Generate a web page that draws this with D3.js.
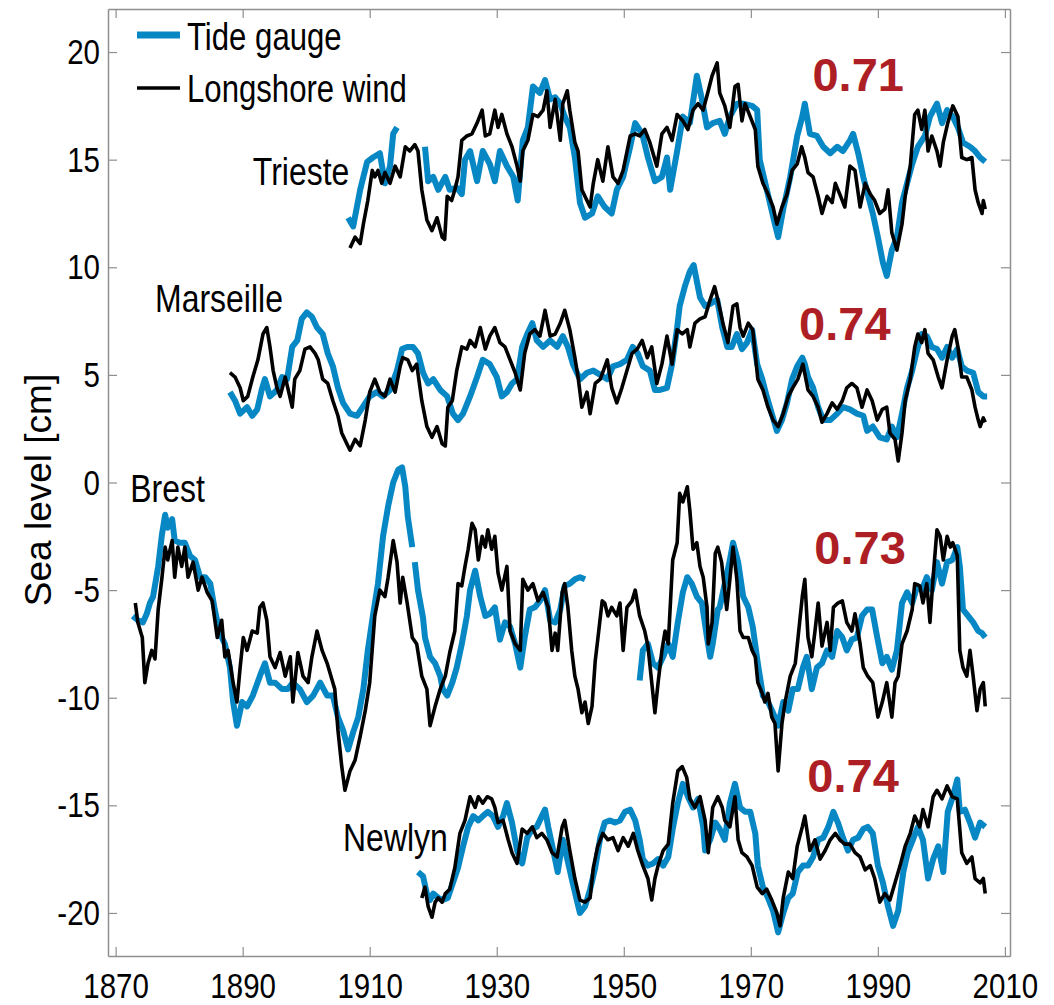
<!DOCTYPE html>
<html>
<head>
<meta charset="utf-8">
<script src="https://cdn.jsdelivr.net/npm/d3@7"></script>
<style>
  body { margin: 0; background: #fff; }
  svg text { font-family: "Liberation Sans", Arial, Helvetica, sans-serif; fill: #000; }
</style>
</head>
<body>
<svg id="chart" width="1054" height="1005"></svg>
<script>
// Sea level at four stations: tide gauge vs longshore-wind reconstruction

const X_TICKS = [1870, 1890, 1910, 1930, 1950, 1970, 1990, 2010];
const Y_TICKS = [-20, -15, -10, -5, 0, 5, 10, 15, 20];

const SERIES_NAMES = ["Tide gauge", "Longshore wind"];
const STATIONS = ["Trieste", "Marseille", "Brest", "Newlyn"];
const CORRELATIONS = ["0.71", "0.74", "0.73", "0.74"];

// [year, cm]; null marks a gap in the record
const triesteTide = [
  [1906.6,12.3],[1907.4,11.9],[1908.5,13.6],[1909.6,14.9],[1910.5,15.1],[1911.6,15.3],[1912.4,13.9],[1913.2,14.7],[1913.7,16.2],[1914.3,16.5],[1916,null],
  [1918.7,15.6],[1919.2,14.0],[1920.0,14.2],[1920.8,13.6],[1921.9,14.2],[1922.6,13.6],[1923.7,13.7],[1924.5,13.4],[1925.0,15.0],[1925.8,15.4],[1926.9,14.0],
  [1927.8,15.4],[1928.9,14.8],[1929.7,14.0],[1930.5,15.4],[1931.6,14.7],[1932.6,14.2],[1933.3,13.1],[1934.1,15.9],[1934.9,16.5],[1935.7,18.4],[1936.8,18.1],
  [1937.6,18.7],[1938.4,17.8],[1939.2,17.9],[1940.0,17.6],[1940.7,17.0],[1941.5,16.5],[1942.3,15.1],[1943.1,13.0],[1943.9,12.3],[1945.0,12.5],[1945.9,13.3],
  [1947.0,12.8],[1948.1,12.5],[1948.9,13.6],[1949.9,14.2],[1951.0,15.6],[1951.8,16.7],[1952.9,16.2],[1953.8,15.1],[1954.9,14.0],[1956.0,14.2],[1956.8,15.1],
  [1957.3,13.6],[1958.4,15.4],[1959.3,17.0],[1960.4,16.7],[1961.5,18.9],[1962.3,17.8],[1963.1,16.5],[1964.0,16.7],[1965.1,16.8],[1965.9,16.2],[1966.7,17.0],
  [1967.8,17.6],[1968.8,17.6],[1970.2,17.5],[1971.0,17.3],[1971.4,15.0],[1972.2,14.0],[1973.0,13.0],[1973.8,12.0],[1974.3,11.4],[1975.1,12.7],[1976.2,14.2],
  [1977.3,16.1],[1978.1,17.0],[1978.5,17.6],[1979.3,16.2],[1980.4,16.1],[1981.4,15.6],[1982.5,15.3],[1983.6,15.6],[1984.5,15.4],[1985.6,15.9],[1986.1,16.2],
  [1986.9,15.3],[1987.7,14.2],[1988.4,13.4],[1989.2,12.5],[1990.0,11.4],[1990.8,10.2],[1991.4,9.6],[1992.2,10.8],[1993.0,11.4],[1993.8,13.0],[1994.6,13.9],
  [1995.4,14.8],[1996.3,15.6],[1997.4,16.1],[1998.2,17.0],[1999.3,17.6],[2000.1,16.7],[2000.9,17.3],[2001.8,17.0],[2002.6,16.5],[2003.4,15.8],[2004.5,15.6],
  [2005.3,15.4],[2006.1,15.1],[2006.9,14.9]
];
const triesteWind = [
  [1906.9,10.9],[1907.7,11.4],[1908.5,11.1],[1909.0,12.0],[1909.7,13.1],[1910.4,14.5],[1910.8,14.2],[1911.3,14.5],[1911.9,13.9],[1912.4,14.4],[1913.2,13.9],
  [1914.0,14.7],[1914.8,14.2],[1915.6,15.6],[1916.3,15.4],[1917.1,15.7],[1917.6,15.4],[1918.2,13.6],[1919.0,12.2],[1919.8,11.7],[1920.6,12.3],[1921.4,11.4],
  [1921.8,11.3],[1922.2,13.3],[1922.9,13.1],[1923.4,13.6],[1923.9,14.2],[1924.5,15.9],[1925.3,16.1],[1926.1,16.2],[1926.9,16.7],[1927.7,17.3],[1928.2,16.1],
  [1928.9,16.2],[1929.7,17.3],[1930.2,16.5],[1930.8,17.1],[1931.6,16.2],[1932.4,15.6],[1933.2,14.7],[1933.7,14.0],[1934.1,15.4],[1934.9,15.9],[1935.7,17.1],
  [1936.5,17.0],[1937.3,17.3],[1937.9,18.2],[1938.4,16.5],[1939.2,17.8],[1940.0,15.9],[1940.4,17.6],[1941.1,18.2],[1941.5,17.3],[1942.3,15.8],[1942.8,15.4],
  [1943.4,13.6],[1944.2,13.1],[1944.7,12.8],[1945.2,13.9],[1945.9,15.0],[1946.7,14.0],[1947.5,15.6],[1948.3,14.2],[1949.1,13.9],[1949.9,14.5],[1951.0,16.1],
  [1951.8,16.2],[1952.5,16.1],[1953.3,16.4],[1954.1,15.8],[1955.2,14.7],[1956.0,16.2],[1956.8,16.5],[1957.6,15.9],[1958.4,17.1],[1959.3,16.8],[1960.1,16.4],
  [1960.9,17.3],[1961.7,17.6],[1962.5,17.3],[1963.3,18.2],[1963.9,18.9],[1964.7,19.5],[1965.1,18.1],[1965.9,17.5],[1966.7,16.5],[1967.5,18.4],[1968.0,18.5],
  [1968.6,16.8],[1969.1,17.6],[1969.9,17.0],[1970.7,16.4],[1971.1,14.7],[1971.9,13.9],[1972.7,13.4],[1973.5,12.8],[1974.1,12.0],[1974.9,12.8],[1975.7,13.4],
  [1976.5,14.5],[1977.3,14.8],[1978.0,15.6],[1978.5,15.1],[1979.0,14.4],[1979.8,14.2],[1980.6,13.3],[1981.2,12.5],[1982.0,13.3],[1982.8,13.0],[1983.3,13.9],
  [1984.0,13.4],[1984.8,12.8],[1985.6,14.7],[1986.4,14.5],[1987.2,12.8],[1988.0,13.9],[1988.8,13.4],[1989.5,13.1],[1990.3,12.5],[1991.1,12.7],[1991.6,13.6],
  [1992.2,11.6],[1993.0,10.8],[1993.8,12.0],[1994.3,13.3],[1995.1,14.7],[1995.8,17.1],[1996.3,17.3],[1996.9,16.4],[1997.4,17.3],[1997.9,15.4],[1998.5,16.1],
  [1999.3,15.4],[1999.8,14.7],[2000.3,15.8],[2001.0,16.7],[2001.8,17.5],[2002.6,17.0],[2003.2,15.1],[2004.0,15.0],[2004.8,15.1],[2005.3,13.6],[2005.8,13.0],
  [2006.4,12.5],[2006.6,13.1],[2006.9,12.7]
];

const marseilleTide = [
  [1888.0,4.2],[1888.8,3.8],[1889.6,3.2],[1890.7,3.5],[1891.5,3.1],[1892.3,3.4],[1893.0,4.3],[1893.5,4.8],[1894.3,4.0],[1895.4,4.3],[1896.2,4.9],[1897.0,4.8],
  [1897.8,6.3],[1898.6,6.6],[1899.3,7.6],[1900.1,7.9],[1900.9,7.7],[1901.7,7.2],[1902.6,6.9],[1903.4,6.0],[1904.2,5.4],[1905.0,4.4],[1905.8,3.7],[1906.9,3.2],
  [1908.0,3.1],[1908.9,3.5],[1910.0,4.0],[1911.1,4.2],[1912.1,4.0],[1913.2,4.3],[1914.3,5.2],[1915.1,6.2],[1915.9,6.3],[1916.8,6.3],[1917.6,6.0],[1918.4,5.1],
  [1919.2,4.6],[1920.0,4.8],[1921.1,4.3],[1922.2,4.0],[1923.1,3.2],[1923.9,2.9],[1924.7,3.2],[1925.8,4.0],[1926.9,4.9],[1927.8,5.7],[1928.9,5.5],[1930.0,4.9],
  [1930.8,4.0],[1931.6,4.2],[1932.4,4.6],[1933.2,4.8],[1934.0,6.3],[1934.8,6.9],[1935.6,7.4],[1936.3,6.6],[1937.3,6.3],[1938.4,6.6],[1939.5,6.3],[1940.4,6.8],
  [1941.2,6.3],[1942.0,5.5],[1943.1,4.8],[1944.2,5.1],[1945.2,5.2],[1946.3,5.0],[1947.4,4.8],[1948.3,5.4],[1949.4,5.5],[1950.5,5.7],[1951.4,6.3],[1952.2,6.0],
  [1953.0,5.4],[1954.1,5.2],[1954.9,4.3],[1955.7,4.3],[1956.8,4.4],[1957.6,5.5],[1958.4,7.2],[1958.8,8.2],[1959.6,9.1],[1960.4,9.8],[1961.0,10.1],[1962.0,8.6],
  [1962.8,8.2],[1963.6,8.3],[1964.7,8.5],[1965.5,7.2],[1966.3,6.3],[1967.0,6.3],[1967.8,6.9],[1968.6,6.2],[1969.4,6.5],[1970.2,7.1],[1971.0,5.5],[1971.8,4.8],
  [1972.5,4.0],[1973.3,3.2],[1974.1,2.4],[1974.9,2.9],[1975.7,3.7],[1976.5,4.8],[1977.3,5.4],[1978.1,5.8],[1978.5,5.5],[1979.0,4.9],[1979.8,4.4],[1980.6,3.5],
  [1981.4,2.9],[1982.5,2.9],[1983.6,3.2],[1984.5,3.5],[1985.6,3.4],[1986.7,3.2],[1987.7,3.1],[1988.3,2.4],[1989.2,2.6],[1990.3,2.1],[1991.4,2.0],[1992.2,2.6],
  [1993.0,2.1],[1993.8,3.2],[1994.6,4.4],[1995.4,5.2],[1996.2,6.2],[1996.9,6.9],[1997.7,6.8],[1998.5,6.3],[1999.3,6.2],[2000.1,5.8],[2000.9,6.3],[2001.7,5.8],
  [2002.5,6.2],[2003.2,5.4],[2004.0,5.2],[2005.0,5.1],[2005.8,4.2],[2006.6,4.0],[2007.2,4.0]
];
const marseilleWind = [
  [1888.0,5.1],[1888.8,4.9],[1889.6,4.4],[1890.1,3.8],[1890.8,4.0],[1891.6,4.9],[1892.4,5.7],[1893.2,6.9],[1893.8,7.2],[1894.3,6.3],[1894.8,5.2],[1895.4,4.4],
  [1895.9,4.0],[1896.7,4.9],[1897.1,4.4],[1897.8,3.5],[1898.2,4.8],[1899.0,5.2],[1899.8,6.2],[1900.6,6.3],[1901.4,6.0],[1901.9,5.7],[1902.6,4.8],[1903.4,4.6],
  [1904.2,3.8],[1905.0,3.1],[1905.6,2.3],[1906.4,1.8],[1906.9,1.5],[1907.7,2.0],[1908.5,1.7],[1909.3,2.9],[1910.0,4.2],[1910.8,4.8],[1911.6,4.2],[1912.4,4.0],
  [1913.2,4.8],[1914.0,4.2],[1914.8,5.4],[1915.2,5.8],[1916.0,5.7],[1916.7,5.2],[1917.4,5.5],[1918.2,3.8],[1919.0,2.6],[1919.8,2.1],[1920.6,2.6],[1921.4,1.8],
  [1921.9,1.7],[1922.3,3.5],[1923.0,3.8],[1923.7,5.2],[1924.5,6.3],[1925.3,6.2],[1925.8,6.6],[1926.6,6.3],[1927.4,7.2],[1928.2,6.2],[1928.9,6.8],[1929.7,7.2],
  [1930.5,6.5],[1931.3,6.3],[1932.1,5.7],[1932.9,5.1],[1933.7,4.3],[1934.4,6.0],[1935.2,6.9],[1936.0,7.1],[1936.8,6.8],[1937.6,8.0],[1938.4,6.8],[1939.2,6.9],
  [1940.0,7.4],[1940.7,8.0],[1941.5,7.1],[1942.3,5.8],[1942.8,4.9],[1943.4,3.5],[1944.2,4.2],[1944.7,3.2],[1945.5,4.6],[1946.3,4.8],[1947.4,5.7],[1948.1,4.4],
  [1948.9,3.7],[1949.7,4.4],[1950.5,5.2],[1951.3,6.0],[1952.1,6.2],[1952.9,6.6],[1953.7,5.8],[1954.4,6.3],[1955.2,4.6],[1956.0,5.5],[1956.8,6.8],[1957.6,5.5],
  [1958.4,7.1],[1959.2,6.9],[1960.0,7.1],[1960.4,6.3],[1961.2,7.4],[1962.0,7.6],[1962.8,7.7],[1963.6,8.5],[1964.3,9.1],[1964.8,8.5],[1965.6,7.4],[1966.4,6.5],
  [1967.2,8.2],[1967.8,8.3],[1968.3,7.2],[1968.8,6.8],[1969.6,7.4],[1970.3,7.1],[1971.1,4.8],[1971.9,4.3],[1972.7,3.5],[1973.5,2.9],[1974.3,2.6],[1975.1,3.2],
  [1975.9,4.0],[1976.6,4.4],[1977.4,4.8],[1978.2,5.5],[1979.0,4.3],[1979.8,4.0],[1980.6,3.5],[1981.2,2.8],[1982.0,3.2],[1982.8,3.7],[1983.6,3.4],[1984.4,3.8],
  [1985.1,4.4],[1985.9,4.6],[1986.7,4.4],[1987.5,3.5],[1988.3,4.3],[1989.1,3.8],[1989.9,2.9],[1990.7,3.4],[1991.4,3.5],[1991.9,2.3],[1992.7,2.0],[1993.2,1.0],
  [1993.8,2.3],[1994.3,3.8],[1995.1,4.8],[1995.8,6.3],[1996.3,6.9],[1996.9,6.5],[1997.4,7.1],[1997.9,6.0],[1998.7,5.7],[1999.5,4.9],[2000.1,4.4],[2000.9,5.7],
  [2001.7,6.8],[2002.1,7.1],[2002.6,6.3],[2003.2,4.9],[2004.0,4.9],[2004.8,4.3],[2005.3,3.5],[2005.8,2.9],[2006.1,2.6],[2006.6,3.0],[2006.9,2.8]
];

const brestTide = [
  [1872.7,-6.2],[1873.5,-6.4],[1874.3,-6.5],[1874.9,-6.1],[1875.4,-5.6],[1875.9,-5.3],[1876.7,-3.9],[1877.3,-2.4],[1877.8,-1.5],[1878.2,-2.1],[1878.9,-1.7],
  [1879.3,-2.7],[1880.1,-2.8],[1880.9,-2.8],[1881.7,-3.4],[1882.5,-3.6],[1883.3,-4.4],[1884.1,-4.4],[1884.9,-4.7],[1885.6,-5.9],[1886.4,-7.0],[1887.2,-7.5],
  [1888.0,-8.6],[1888.5,-10.2],[1889.1,-11.3],[1889.9,-10.2],[1890.7,-10.4],[1891.6,-9.9],[1892.7,-9.0],[1893.5,-8.4],[1894.3,-9.3],[1895.1,-9.3],[1896.2,-9.6],
  [1897.1,-9.6],[1897.9,-9.3],[1899.0,-9.6],[1900.1,-10.2],[1901.1,-9.9],[1902.2,-9.3],[1903.3,-9.9],[1904.2,-9.9],[1905.0,-10.9],[1905.8,-11.5],[1906.6,-12.4],
  [1907.4,-11.6],[1908.2,-10.9],[1909.0,-9.6],[1909.7,-7.8],[1910.5,-6.2],[1911.3,-4.7],[1912.1,-2.5],[1912.9,-1.1],[1913.7,0.0],[1914.5,0.6],[1915.1,0.7],
  [1915.6,-0.2],[1916.0,-1.6],[1916.7,-3.0],[1916.9,null],
  [1917.1,-3.7],[1917.6,-5.0],[1918.4,-6.3],[1918.7,-7.2],[1919.5,-8.1],[1920.3,-8.4],[1921.1,-9.0],[1921.5,-9.6],[1922.2,-9.9],[1923.0,-9.3],[1923.7,-8.6],
  [1924.5,-7.5],[1925.3,-6.2],[1925.8,-5.0],[1926.6,-4.1],[1927.4,-5.3],[1928.2,-6.2],[1928.9,-6.1],[1929.7,-5.8],[1930.5,-7.3],[1931.3,-6.5],[1932.1,-6.7],
  [1932.9,-7.5],[1933.7,-8.6],[1934.4,-7.2],[1935.2,-5.9],[1936.0,-5.8],[1936.8,-5.5],[1937.6,-5.0],[1938.4,-6.4],[1939.2,-6.5],[1940.0,-5.9],[1940.7,-4.8],
  [1941.5,-4.7],[1942.3,-4.5],[1943.1,-4.4],[1943.9,-4.5],[1948,null],
  [1952.5,-9.2],[1953.0,-7.8],[1953.8,-7.5],[1954.6,-8.4],[1955.4,-8.6],[1956.2,-8.1],[1957.0,-7.5],[1957.7,-8.1],[1958.5,-6.5],[1959.3,-5.1],[1960.0,-4.4],
  [1960.7,-4.7],[1961.5,-5.3],[1962.3,-5.6],[1963.1,-7.2],[1963.6,-8.1],[1964.0,-7.5],[1964.8,-5.9],[1965.1,-5.8],[1965.9,-4.7],[1966.7,-3.6],[1967.2,-2.8],
  [1968.0,-3.7],[1968.8,-5.3],[1969.6,-5.8],[1970.3,-6.7],[1971.1,-8.4],[1971.9,-9.9],[1972.7,-10.2],[1973.5,-10.7],[1974.3,-11.3],[1975.1,-10.2],[1975.9,-10.6],
  [1976.6,-9.6],[1977.4,-9.6],[1978.2,-8.6],[1978.8,-8.1],[1979.6,-9.6],[1980.4,-8.6],[1981.2,-8.4],[1982.0,-7.8],[1982.8,-8.1],[1983.6,-6.9],[1984.4,-7.2],
  [1985.1,-7.8],[1985.9,-7.3],[1986.7,-7.2],[1987.5,-6.2],[1988.3,-5.9],[1989.1,-5.9],[1989.9,-7.2],[1990.7,-8.4],[1991.4,-8.1],[1992.2,-8.7],[1993.0,-7.8],
  [1993.8,-5.6],[1994.6,-5.1],[1995.4,-5.6],[1996.2,-4.8],[1996.9,-5.0],[1997.7,-4.4],[1998.5,-5.0],[1999.3,-3.7],[2000.1,-4.7],[2000.9,-3.7],[2001.7,-3.6],
  [2002.5,-3.0],[2002.9,-3.9],[2003.4,-5.9],[2004.2,-6.2],[2005.0,-6.5],[2005.8,-6.9],[2006.4,-7.0],[2006.9,-7.2]
];
const brestWind = [
  [1873.1,-5.6],[1873.5,-6.5],[1874.2,-7.2],[1874.6,-9.3],[1875.1,-8.4],[1875.7,-7.8],[1876.2,-8.2],[1876.7,-5.9],[1877.3,-4.4],[1877.8,-3.0],[1878.2,-3.6],
  [1878.9,-2.7],[1879.3,-4.4],[1879.8,-3.0],[1880.4,-3.9],[1880.9,-3.0],[1881.4,-4.4],[1882.2,-3.7],[1883.0,-5.0],[1883.6,-4.4],[1884.4,-5.1],[1885.2,-5.5],
  [1886.0,-7.2],[1886.7,-6.4],[1887.2,-8.1],[1887.7,-7.8],[1888.5,-9.3],[1889.1,-10.2],[1889.6,-8.6],[1890.1,-7.2],[1890.7,-7.8],[1891.5,-6.9],[1892.3,-7.0],
  [1892.7,-5.8],[1893.2,-5.6],[1893.8,-6.4],[1894.3,-8.1],[1895.1,-8.6],[1895.9,-7.9],[1896.7,-9.0],[1897.5,-8.1],[1897.9,-10.2],[1898.7,-7.9],[1899.5,-9.0],
  [1900.3,-9.3],[1900.9,-8.1],[1901.7,-6.9],[1902.5,-7.8],[1903.3,-8.4],[1904.1,-9.2],[1904.5,-9.6],[1905.0,-11.5],[1905.6,-13.2],[1906.1,-14.3],[1906.9,-13.4],
  [1907.7,-12.9],[1908.5,-11.8],[1909.3,-10.6],[1910.0,-9.3],[1910.8,-6.2],[1911.6,-5.0],[1912.4,-5.3],[1912.9,-4.4],[1913.7,-2.7],[1914.3,-3.7],[1914.8,-5.6],
  [1915.2,-4.4],[1915.9,-5.6],[1916.7,-7.2],[1917.4,-7.5],[1918.2,-9.0],[1919.0,-9.6],[1919.5,-11.3],[1920.3,-10.4],[1921.1,-9.6],[1921.9,-9.0],[1922.6,-7.9],
  [1923.4,-6.9],[1923.9,-4.7],[1924.5,-4.8],[1925.0,-3.9],[1925.5,-3.1],[1926.1,-1.9],[1926.6,-2.2],[1927.1,-3.6],[1927.7,-2.5],[1928.2,-3.0],[1928.6,-2.2],
  [1929.2,-3.1],[1929.7,-2.5],[1930.2,-4.2],[1930.8,-5.0],[1931.6,-3.9],[1932.1,-6.9],[1932.9,-7.5],[1933.7,-7.8],[1934.1,-4.5],[1934.9,-5.0],[1935.7,-4.7],
  [1936.5,-5.5],[1937.3,-5.1],[1938.1,-5.8],[1938.7,-7.8],[1939.2,-7.0],[1939.6,-7.8],[1940.3,-5.1],[1940.7,-4.7],[1941.2,-5.8],[1941.8,-7.8],[1942.3,-9.0],
  [1942.8,-9.6],[1943.4,-10.7],[1943.9,-10.2],[1944.4,-11.2],[1945.0,-10.4],[1945.5,-8.3],[1945.9,-7.3],[1946.6,-5.5],[1947.0,-5.6],[1947.5,-6.2],[1948.1,-5.8],
  [1948.9,-6.2],[1949.4,-5.6],[1949.9,-7.8],[1950.5,-5.8],[1951.3,-5.5],[1951.8,-5.0],[1952.5,-6.2],[1953.3,-6.9],[1953.8,-7.6],[1954.4,-9.3],[1954.9,-10.7],
  [1955.4,-9.3],[1956.0,-7.8],[1956.5,-6.9],[1957.0,-7.5],[1957.7,-3.6],[1958.4,-2.8],[1958.8,-0.5],[1959.3,-0.9],[1960.0,-0.2],[1960.4,-1.3],[1960.9,-3.1],
  [1961.5,-2.8],[1962.0,-3.9],[1962.5,-4.4],[1963.1,-5.8],[1963.3,-7.5],[1963.9,-6.5],[1964.4,-3.3],[1964.8,-3.0],[1965.4,-3.7],[1966.2,-5.9],[1966.7,-4.5],
  [1967.2,-3.0],[1967.8,-4.5],[1968.3,-6.9],[1968.8,-7.2],[1969.6,-7.2],[1970.2,-7.8],[1970.7,-8.1],[1971.1,-9.3],[1971.8,-9.8],[1972.2,-10.2],[1972.7,-9.8],
  [1973.3,-10.9],[1973.8,-11.2],[1974.3,-13.4],[1974.9,-11.2],[1975.4,-10.2],[1976.2,-9.0],[1977.0,-8.4],[1977.4,-7.3],[1978.1,-5.3],[1978.5,-4.5],[1979.0,-7.2],
  [1979.6,-8.1],[1980.1,-6.9],[1980.6,-5.6],[1981.2,-7.6],[1982.0,-6.5],[1982.5,-7.8],[1983.0,-5.8],[1983.7,-5.6],[1984.4,-5.5],[1985.1,-6.5],[1985.9,-6.9],
  [1986.4,-6.1],[1987.2,-7.5],[1987.7,-8.6],[1988.4,-9.0],[1989.2,-9.3],[1990.0,-10.9],[1990.7,-10.2],[1991.4,-9.3],[1992.2,-10.9],[1992.7,-9.3],[1993.2,-9.0],
  [1993.8,-7.5],[1994.6,-6.9],[1995.4,-5.9],[1995.8,-4.7],[1996.6,-4.8],[1997.1,-5.6],[1997.7,-4.7],[1998.2,-6.5],[1998.7,-4.4],[1999.3,-2.2],[1999.8,-2.5],
  [2000.3,-3.6],[2000.9,-2.5],[2001.4,-3.0],[2001.8,-2.8],[2002.5,-3.4],[2002.9,-7.8],[2003.4,-8.6],[2004.0,-9.0],[2004.5,-7.8],[2005.0,-9.0],[2005.6,-10.6],
  [2006.1,-9.6],[2006.6,-9.3],[2006.9,-10.4]
];

const newlynTide = [
  [1917.6,-18.1],[1918.4,-18.3],[1919.0,-19.1],[1919.5,-19.4],[1920.0,-19.1],[1920.8,-19.3],[1921.5,-19.4],[1922.3,-19.3],[1923.1,-18.6],[1923.9,-17.9],
  [1924.7,-16.9],[1925.5,-16.0],[1926.3,-15.5],[1927.1,-15.7],[1927.8,-15.5],[1928.6,-15.3],[1929.4,-15.5],[1930.2,-16.0],[1931.0,-15.5],[1931.6,-14.9],
  [1932.4,-15.8],[1933.2,-17.1],[1934.0,-17.7],[1934.8,-16.5],[1935.6,-16.1],[1936.3,-16.0],[1937.1,-15.5],[1937.6,-15.2],[1938.1,-16.0],[1938.9,-17.1],
  [1939.6,-18.1],[1940.4,-16.6],[1941.1,-17.5],[1941.8,-18.4],[1942.6,-19.4],[1943.1,-20.0],[1943.9,-19.7],[1944.7,-18.9],[1945.5,-17.9],[1946.3,-16.5],
  [1947.0,-15.8],[1947.8,-15.7],[1948.6,-15.8],[1949.4,-15.7],[1950.2,-15.3],[1951.0,-15.2],[1951.8,-15.7],[1952.5,-16.6],[1953.0,-17.5],[1953.8,-17.8],
  [1954.6,-17.7],[1955.4,-17.5],[1956.2,-17.8],[1957.0,-17.4],[1957.7,-16.1],[1958.5,-14.9],[1959.3,-14.0],[1960.1,-14.6],[1960.9,-15.1],[1961.7,-14.7],
  [1962.5,-16.0],[1962.8,-17.1],[1963.6,-16.6],[1964.4,-15.8],[1965.1,-16.1],[1965.9,-16.6],[1966.7,-14.9],[1967.5,-14.0],[1968.3,-15.1],[1969.1,-15.3],
  [1969.9,-15.3],[1970.7,-16.3],[1971.1,-17.8],[1971.9,-18.8],[1972.7,-19.3],[1973.5,-19.9],[1974.3,-20.9],[1975.1,-20.0],[1975.9,-19.3],[1976.6,-19.1],
  [1977.4,-18.1],[1978.2,-17.8],[1979.0,-17.8],[1979.8,-17.4],[1980.6,-16.6],[1981.4,-16.5],[1982.2,-16.0],[1983.0,-15.3],[1983.7,-15.8],[1984.5,-16.5],
  [1985.3,-17.1],[1986.1,-16.6],[1986.9,-16.5],[1987.7,-16.1],[1988.4,-16.0],[1989.2,-16.3],[1990.0,-17.8],[1990.8,-18.6],[1991.6,-19.7],[1992.4,-20.6],
  [1993.2,-19.9],[1994.0,-18.1],[1994.7,-17.2],[1995.5,-16.6],[1996.3,-16.0],[1997.1,-16.6],[1997.9,-18.4],[1998.7,-17.5],[1999.5,-16.9],[2000.3,-18.1],
  [2001.0,-15.3],[2001.8,-14.6],[2002.5,-13.8],[2002.9,-15.3],[2003.7,-15.2],[2004.5,-15.8],[2005.3,-16.5],[2006.1,-15.8],[2006.9,-16.0]
];
const newlynWind = [
  [1918.2,-19.3],[1918.7,-18.8],[1919.2,-19.7],[1919.8,-20.2],[1920.3,-19.5],[1920.8,-19.3],[1921.4,-19.5],[1921.9,-19.1],[1922.6,-18.9],[1923.4,-17.9],
  [1924.2,-16.3],[1925.0,-15.7],[1925.8,-14.6],[1926.6,-15.1],[1927.1,-14.6],[1927.8,-14.9],[1928.5,-14.6],[1929.2,-14.7],[1929.7,-15.1],[1930.2,-15.8],
  [1931.0,-15.7],[1931.8,-16.6],[1932.4,-17.2],[1933.2,-17.7],[1934.0,-16.1],[1934.8,-16.3],[1935.6,-16.0],[1936.3,-16.5],[1937.1,-16.3],[1937.9,-16.6],
  [1938.7,-17.2],[1939.5,-17.4],[1940.3,-16.0],[1940.7,-15.7],[1941.5,-17.1],[1942.3,-18.4],[1943.1,-19.4],[1943.9,-19.5],[1944.7,-19.3],[1945.2,-17.9],
  [1945.9,-16.9],[1946.7,-16.3],[1947.5,-16.6],[1948.3,-16.5],[1949.1,-17.1],[1949.9,-16.5],[1950.7,-16.9],[1951.5,-16.3],[1952.2,-17.1],[1953.0,-17.8],
  [1953.8,-18.4],[1954.4,-19.4],[1954.9,-18.4],[1955.4,-17.8],[1956.2,-17.1],[1957.0,-16.8],[1957.7,-14.9],[1958.5,-13.4],[1959.2,-13.2],[1959.9,-13.7],
  [1960.4,-14.7],[1961.2,-15.1],[1962.0,-14.6],[1962.8,-15.7],[1963.3,-17.2],[1964.0,-15.1],[1964.8,-14.6],[1965.5,-15.1],[1965.9,-15.7],[1966.7,-16.0],
  [1967.5,-14.6],[1968.0,-16.6],[1968.6,-17.2],[1969.4,-17.4],[1970.2,-17.8],[1971.0,-18.8],[1971.8,-19.1],[1972.5,-18.9],[1973.3,-19.4],[1974.1,-20.0],
  [1974.6,-20.6],[1975.1,-19.3],[1975.9,-18.1],[1976.6,-18.4],[1977.3,-16.9],[1978.1,-16.0],[1978.5,-15.5],[1979.3,-17.1],[1980.1,-16.6],[1980.9,-17.5],
  [1981.7,-17.1],[1982.5,-16.6],[1983.3,-16.3],[1984.0,-16.6],[1984.8,-16.8],[1985.6,-16.8],[1986.4,-17.2],[1987.2,-17.4],[1988.0,-18.0],[1988.8,-17.8],
  [1989.5,-18.4],[1990.3,-19.5],[1991.1,-19.1],[1991.9,-19.4],[1992.7,-18.6],[1993.5,-17.8],[1994.3,-16.9],[1995.1,-16.3],[1995.8,-15.5],[1996.6,-16.0],
  [1997.1,-15.2],[1997.9,-16.0],[1998.7,-14.6],[1999.3,-14.3],[2000.1,-14.7],[2000.9,-14.1],[2001.7,-14.6],[2002.5,-14.7],[2003.2,-17.2],[2004.0,-17.7],
  [2004.8,-17.4],[2005.3,-18.4],[2006.1,-18.6],[2006.6,-18.4],[2006.9,-19.1]
];

// label anchors in data units [year, cm]
const stationLabelAt = [[1891.6, 13.8], [1876.2, 7.9], [1872.3, -0.9], [1905.8, -17.1]];
const corrLabelAt = [[1986.9, 18.2], [1984.8, 6.6], [1987.2, -3.8], [1986.1, -14.4]];

const TIDE_COLOR = "#0788c5";
const WIND_COLOR = "#000000";
const CORR_COLOR = "#ad1f25";
const FRAME_COLOR = "#8f8f8f";
const NARROW = 0.82;   // Helvetica-Narrow look, built from Liberation Sans

const svg = d3.select("#chart");
const width = +svg.attr("width");
const height = +svg.attr("height");
const margin = { top: 9, right: 44, bottom: 49, left: 108 };
const innerW = width - margin.left - margin.right;
const innerH = height - margin.top - margin.bottom;

const x = d3.scaleLinear().domain([1868.8, 2010.8]).range([0, innerW]);
const y = d3.scaleLinear().domain([-22, 22]).range([innerH, 0]);

const g = svg.append("g").attr("transform", `translate(${margin.left},${margin.top})`);

// squeeze a text horizontally while keeping its anchor point
function narrowText(sel) {
  sel.each(function () {
    const t = d3.select(this);
    const xv = +t.attr("x") || 0;
    t.attr("x", xv / NARROW).attr("transform", `scale(${NARROW},1)`);
  });
}

// ---------- frame + axes (ticks point inward, mirrored on top/right)
const TICK = 9;
const fmt = d => String(d);

function styleAxis(sel) {
  sel.selectAll("path.domain").attr("stroke", FRAME_COLOR).attr("stroke-width", 1.5);
  sel.selectAll(".tick line").attr("stroke", FRAME_COLOR).attr("stroke-width", 1.2);
  sel.selectAll(".tick text").attr("fill", "#000").style("font-size", "36px").call(narrowText);
}

g.append("g")
  .attr("transform", `translate(0,${innerH})`)
  .call(d3.axisBottom(x).tickValues(X_TICKS).tickFormat(fmt).tickSize(-TICK).tickSizeOuter(0).tickPadding(16))
  .call(styleAxis);

g.append("g")
  .call(d3.axisTop(x).tickValues(X_TICKS).tickFormat("").tickSize(-TICK).tickSizeOuter(0))
  .call(styleAxis);

g.append("g")
  .call(d3.axisLeft(y).tickValues(Y_TICKS).tickFormat(fmt).tickSize(-TICK).tickSizeOuter(0).tickPadding(8))
  .call(styleAxis);

g.append("g")
  .attr("transform", `translate(${innerW},0)`)
  .call(d3.axisRight(y).tickValues(Y_TICKS).tickFormat("").tickSize(-TICK).tickSizeOuter(0))
  .call(styleAxis);

svg.append("text")
  .attr("transform", "translate(38,490) rotate(-90)")
  .attr("text-anchor", "middle")
  .attr("dominant-baseline", "central")
  .style("font-size", "37px")
  .text("Sea level [cm]");

// ---------- series
const line = d3.line()
  .defined(d => d[1] !== null)
  .x(d => x(d[0]))
  .y(d => y(d[1]));

const pairs = [
  [triesteTide, triesteWind],
  [marseilleTide, marseilleWind],
  [brestTide, brestWind],
  [newlynTide, newlynWind]
];

const plot = g.append("g");
pairs.forEach(([tide, wind]) => {
  plot.append("path")
    .datum(tide)
    .attr("fill", "none")
    .attr("stroke", TIDE_COLOR)
    .attr("stroke-width", 6)
    .attr("stroke-linejoin", "round")
    .attr("d", line);
  plot.append("path")
    .datum(wind)
    .attr("fill", "none")
    .attr("stroke", WIND_COLOR)
    .attr("stroke-width", 3.6)
    .attr("stroke-linejoin", "round")
    .attr("d", line);
});

// ---------- station names and correlations
g.selectAll("text.station")
  .data(STATIONS)
  .join("text")
  .attr("class", "station")
  .attr("x", (d, i) => x(stationLabelAt[i][0]))
  .attr("y", (d, i) => y(stationLabelAt[i][1]))
  .style("font-size", "39px")
  .text(d => d)
  .call(narrowText);

g.selectAll("text.corr")
  .data(CORRELATIONS)
  .join("text")
  .attr("class", "corr")
  .attr("x", (d, i) => x(corrLabelAt[i][0]))
  .attr("y", (d, i) => y(corrLabelAt[i][1]))
  .attr("text-anchor", "middle")
  .style("font-weight", "bold")
  .style("font-size", "47px")
  .style("fill", CORR_COLOR)
  .text(d => d);

// ---------- legend (no box)
const legend = svg.append("g").attr("transform", "translate(137,0)");
const legendRows = [
  { name: SERIES_NAMES[0], color: TIDE_COLOR, w: 7, ly: 35, ty: 50 },
  { name: SERIES_NAMES[1], color: WIND_COLOR, w: 3.6, ly: 88, ty: 102 }
];
legendRows.forEach(r => {
  legend.append("line")
    .attr("x1", 0).attr("x2", 43)
    .attr("y1", r.ly).attr("y2", r.ly)
    .attr("stroke", r.color)
    .attr("stroke-width", r.w);
  legend.append("text")
    .attr("x", 50)
    .attr("y", r.ty)
    .style("font-size", "38px")
    .text(r.name)
    .call(narrowText);
});
</script>
</body>
</html>
